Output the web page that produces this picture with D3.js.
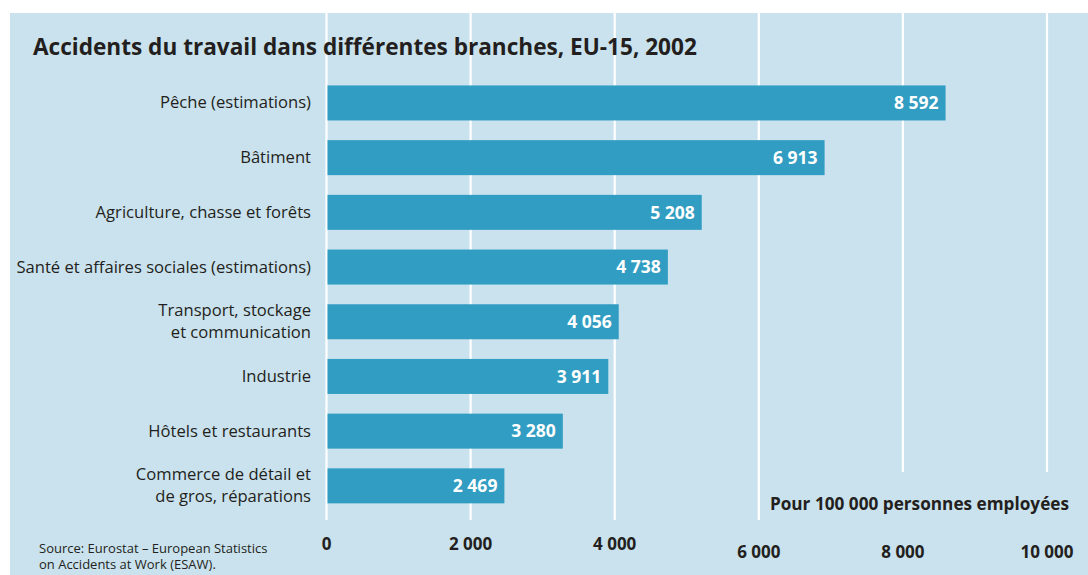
<!DOCTYPE html>
<html>
<head>
<meta charset="utf-8">
<script src="https://cdn.jsdelivr.net/npm/d3@7"></script>
<style>
  body { margin: 0; background: #fff; }
  svg { display: block; font-family: "Open Sans", sans-serif; }
</style>
</head>
<body>
<svg id="chart" width="1088" height="575"></svg>
<script>
// data
const categories = [
  "Pêche (estimations)",
  "Bâtiment",
  "Agriculture, chasse et forêts",
  "Santé et affaires sociales (estimations)",
  "Transport, stockage\net communication",
  "Industrie",
  "Hôtels et restaurants",
  "Commerce de détail et\nde gros, réparations"
]
const values = [8592, 6913, 5208, 4738, 4056, 3911, 3280, 2469]
const tickValues = [0, 2000, 4000, 6000, 8000, 10000]

const title = "Accidents du travail dans différentes branches, EU-15, 2002"
const unitLabel = "Pour 100 000 personnes employées"
const sourceLines = ["Source: Eurostat – European Statistics", "on Accidents at Work (ESAW)."]

const W = 1088, H = 575
const bg = "#cae2ed", barColor = "#319dc2", ink = "#231f20"

const fr = d3.formatLocale({decimal: ",", thousands: "\u00a0", grouping: [3], currency: ["", " €"]})
const fmt = fr.format(",d")

const svg = d3.select("#chart")

// panel background
svg.append("rect")
  .attr("x", 10).attr("y", 13)
  .attr("width", W - 10).attr("height", H - 13)
  .attr("fill", bg)

const x = d3.scaleLinear().domain([0, 10000]).range([326.5, 1047])
const y = d3.scaleBand().domain(categories)
  .range([75.6, 513.2])
  .paddingInner(0.36).paddingOuter(0.18)

// grid lines (the two right ones stop above the unit label)
svg.append("g").selectAll("line")
  .data(tickValues)
  .join("line")
    .attr("x1", d => x(d)).attr("x2", d => x(d))
    .attr("y1", 13)
    .attr("y2", d => d >= 8000 ? 472 : 520)
    .attr("stroke", "#fff")
    .attr("stroke-width", 2.2)

// tick labels
svg.append("g").selectAll("text")
  .data(tickValues)
  .join("text")
    .attr("x", d => x(d))
    .attr("y", d => d >= 6000 ? 558 : 550)
    .attr("text-anchor", "middle")
    .attr("font-size", 17)
    .attr("font-weight", 700)
    .attr("fill", ink)
    .text(d => fmt(d))

// bars
const rows = svg.append("g").selectAll("g")
  .data(categories.map((c, i) => ({cat: c, v: values[i]})))
  .join("g")

rows.append("rect")
  .attr("x", x(0) + 1)
  .attr("y", d => y(d.cat))
  .attr("width", d => x(d.v) - x(0) - 1)
  .attr("height", y.bandwidth())
  .attr("fill", barColor)

rows.append("text")
  .attr("x", d => x(d.v) - 7)
  .attr("y", d => y(d.cat) + y.bandwidth() / 2)
  .attr("dy", "0.36em")
  .attr("text-anchor", "end")
  .attr("font-size", 17.5)
  .attr("font-weight", 700)
  .attr("fill", "#fff")
  .text(d => fmt(d.v))

// category labels, may span two lines
rows.append("text")
  .attr("text-anchor", "end")
  .attr("font-size", 16.6)
  .attr("fill", ink)
  .each(function (d) {
    const lines = d.cat.split("\n")
    const cy = y(d.cat) + y.bandwidth() / 2
    const lh = 22
    d3.select(this).selectAll("tspan")
      .data(lines)
      .join("tspan")
        .attr("x", 311)
        .attr("y", (l, i) => cy + 5.5 + (i - (lines.length - 1) / 2) * lh)
        .text(l => l)
  })

// title
svg.append("text")
  .attr("x", 33).attr("y", 55)
  .attr("font-size", 22.6)
  .attr("font-weight", 700)
  .attr("fill", ink)
  .text(title)

// unit label
svg.append("text")
  .attr("x", 1069).attr("y", 510)
  .attr("text-anchor", "end")
  .attr("font-size", 17.2)
  .attr("font-weight", 700)
  .attr("fill", ink)
  .text(unitLabel)

// source
svg.append("g").selectAll("text")
  .data(sourceLines)
  .join("text")
    .attr("x", 39)
    .attr("y", (d, i) => 553 + i * 16)
    .attr("font-size", 13)
    .attr("fill", ink)
    .text(d => d)
</script>
</body>
</html>
